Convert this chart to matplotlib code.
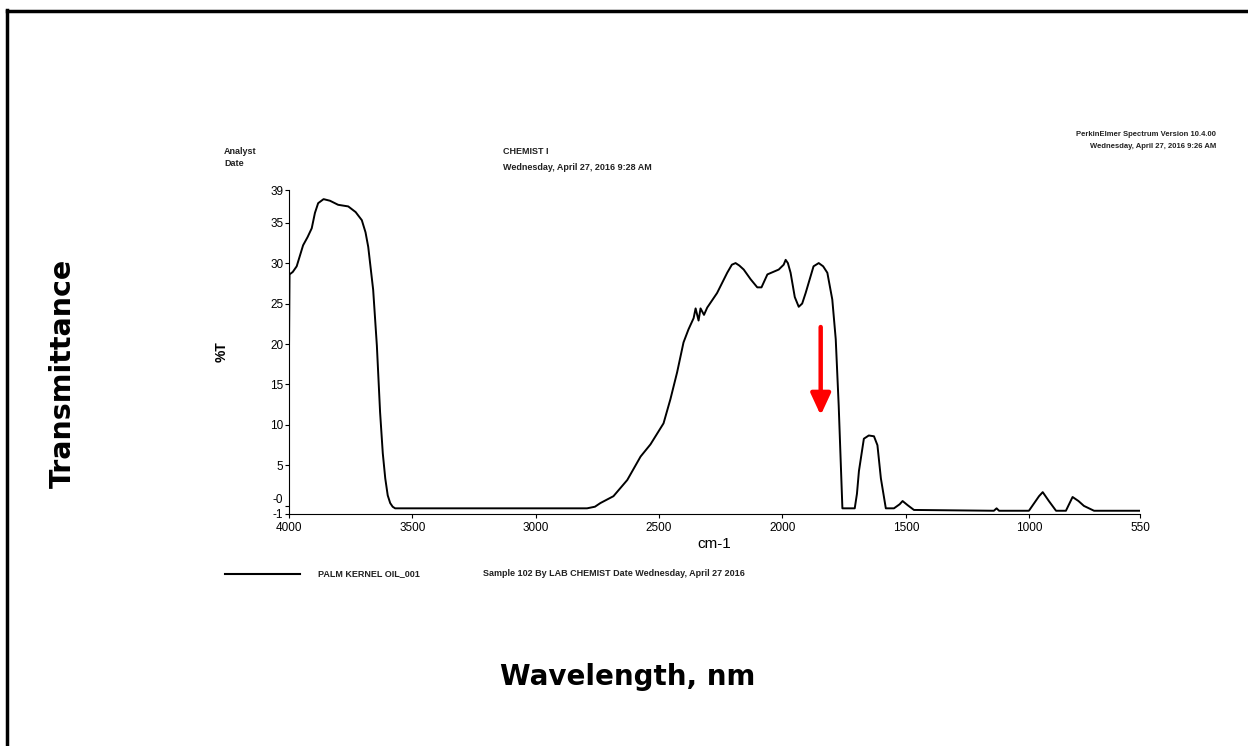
import matplotlib.pyplot as plt
from matplotlib.lines import Line2D

# IR spectrum (wavenumber in cm-1, %T)
wavenumber = [4000, 3998, 3985, 3969, 3955, 3943, 3925, 3908, 3895, 3882, 3860,
              3834, 3801, 3760, 3730, 3705, 3690, 3679, 3659, 3644, 3631, 3620,
              3610, 3600, 3590, 3580, 3570, 2792, 2760, 2738, 2685, 2629, 2575,
              2535, 2482, 2454, 2427, 2401, 2381, 2360, 2352, 2340, 2332, 2318,
              2305, 2265, 2224, 2205, 2190, 2175, 2157, 2129, 2102, 2085, 2076,
              2061, 2015, 1995, 1987, 1978, 1967, 1950, 1934, 1920, 1906, 1874,
              1853, 1835, 1818, 1798, 1784, 1772, 1757, 1707, 1698, 1690, 1670,
              1650, 1629, 1615, 1601, 1581, 1548, 1525, 1513, 1493, 1467, 1143,
              1132, 1122, 1001, 960, 945, 920, 891, 851, 824, 800, 778, 737, 550]
transmittance = [20.0, 28.6, 28.9, 29.6, 31.0, 32.2, 33.2, 34.3, 36.2, 37.4, 37.9,
                 37.7, 37.2, 37.0, 36.3, 35.3, 33.8, 32.0, 26.7, 19.8, 11.6, 6.5,
                 3.4, 1.3, 0.35, -0.1, -0.3, -0.3, -0.1, 0.35, 1.2, 3.2, 6.1,
                 7.6, 10.2, 13.2, 16.5, 20.2, 21.8, 23.2, 24.4, 22.9, 24.4, 23.6,
                 24.5, 26.3, 28.8, 29.8, 30.0, 29.7, 29.2, 28.0, 27.0, 27.0, 27.6,
                 28.6, 29.2, 29.8, 30.4, 30.0, 28.8, 25.8, 24.6, 25.0, 26.3, 29.6,
                 30.0, 29.6, 28.8, 25.5, 20.6, 12.4, -0.3, -0.3, 1.5, 4.3, 8.3,
                 8.7, 8.6, 7.5, 3.4, -0.3, -0.3, 0.2, 0.6, 0.1, -0.5, -0.6,
                 -0.3, -0.6, -0.6, 1.2, 1.7, 0.6, -0.6, -0.6, 1.1, 0.6, 0.0, -0.6, -0.6]

y_ticks = [39, 35, 30, 25, 20, 15, 10, 5, 0, -1]
y_tick_labels = ['39', '35', '30', '25', '20', '15', '10', '5', '-0', '-1']
x_ticks = [4000, 3500, 3000, 2500, 2000, 1500, 1000, 550]

# red arrow marking the band
arrow_x = 1845
arrow_top, arrow_bottom = 22.1, 11.2

fig = plt.figure(figsize=(12.48, 7.46), dpi=100)
fig.patch.set_facecolor('white')

ax = fig.add_axes([0.2316, 0.311, 0.682, 0.434])
ax.plot(wavenumber, transmittance, color='black', linewidth=1.4)

ax.set_xlim(4000, 550)
ax.set_ylim(-1, 39)
ax.set_yticks(y_ticks)
ax.set_yticklabels(y_tick_labels)
ax.set_xticks(x_ticks)
ax.tick_params(axis='both', labelsize=8.5, length=3, width=0.8, pad=1)
ax.tick_params(axis='x', pad=3)
for lbl in ax.get_xticklabels() + ax.get_yticklabels():
    lbl.set_family('Liberation Sans')
# the "-0" and "-1" labels sit one unit apart, lift "-0" so they do not collide
ax.get_yticklabels()[-2].set_verticalalignment('bottom')
ax.spines['top'].set_visible(False)
ax.spines['right'].set_visible(False)
ax.spines['left'].set_linewidth(0.8)
ax.spines['bottom'].set_linewidth(0.8)

ax.set_xlabel('cm-1', fontsize=11, family='Liberation Sans', labelpad=2)
ax.set_ylabel('%T', fontsize=10, family='Liberation Sans', fontweight='bold', labelpad=30)

ax.annotate('', xy=(arrow_x, arrow_bottom), xytext=(arrow_x, arrow_top),
            arrowprops=dict(arrowstyle='-|>,head_width=0.3,head_length=0.65',
                            color='red', lw=3.2, mutation_scale=20,
                            shrinkA=0, shrinkB=0))

# instrument header texts
small = dict(fontsize=6.5, family='Liberation Sans', fontweight='bold', color='#222222')
fig.text(224 / 1248, 1 - 151 / 746, 'Analyst', va='center', **small)
fig.text(224 / 1248, 1 - 164 / 746, 'Date', va='center', **small)
fig.text(503 / 1248, 1 - 152 / 746, 'CHEMIST I', va='center', **small)
fig.text(503 / 1248, 1 - 168 / 746, 'Wednesday, April 27, 2016 9:28 AM', va='center', **small)
fig.text(1216 / 1248, 1 - 135 / 746, 'PerkinElmer Spectrum Version 10.4.00',
         va='center', ha='right', fontsize=5.5, family='Liberation Sans',
         fontweight='bold', color='#222222')
fig.text(1216 / 1248, 1 - 146 / 746, 'Wednesday, April 27, 2016 9:26 AM',
         va='center', ha='right', fontsize=5.5, family='Liberation Sans',
         fontweight='bold', color='#222222')

# legend row under the plot
fig.add_artist(Line2D([225 / 1248, 300 / 1248], [1 - 574 / 746, 1 - 574 / 746],
                      color='black', linewidth=1.5))
fig.text(318 / 1248, 1 - 574 / 746, 'PALM KERNEL OIL_001', va='center', **small)
fig.text(483 / 1248, 1 - 574 / 746,
         'Sample 102 By LAB CHEMIST Date Wednesday, April 27 2016', va='center', **small)

# big axis titles added on the slide
fig.text(63 / 1248, 1 - 373 / 746, 'Transmittance', rotation=90, ha='center',
         va='center', fontsize=20.5, fontweight='heavy', family='DejaVu Sans')
fig.text(628 / 1248, 1 - 677 / 746, 'Wavelength, nm', ha='center', va='center',
         fontsize=20, fontweight='heavy', family='DejaVu Sans')

# frame lines of the slide (left and top only)
fig.add_artist(Line2D([6.5 / 1248, 6.5 / 1248], [0, 1 - 10 / 746], color='black', linewidth=2.5))
fig.add_artist(Line2D([6.5 / 1248, 1], [1 - 11 / 746, 1 - 11 / 746], color='black', linewidth=2.5))

fig.savefig('out.png', dpi=100)
